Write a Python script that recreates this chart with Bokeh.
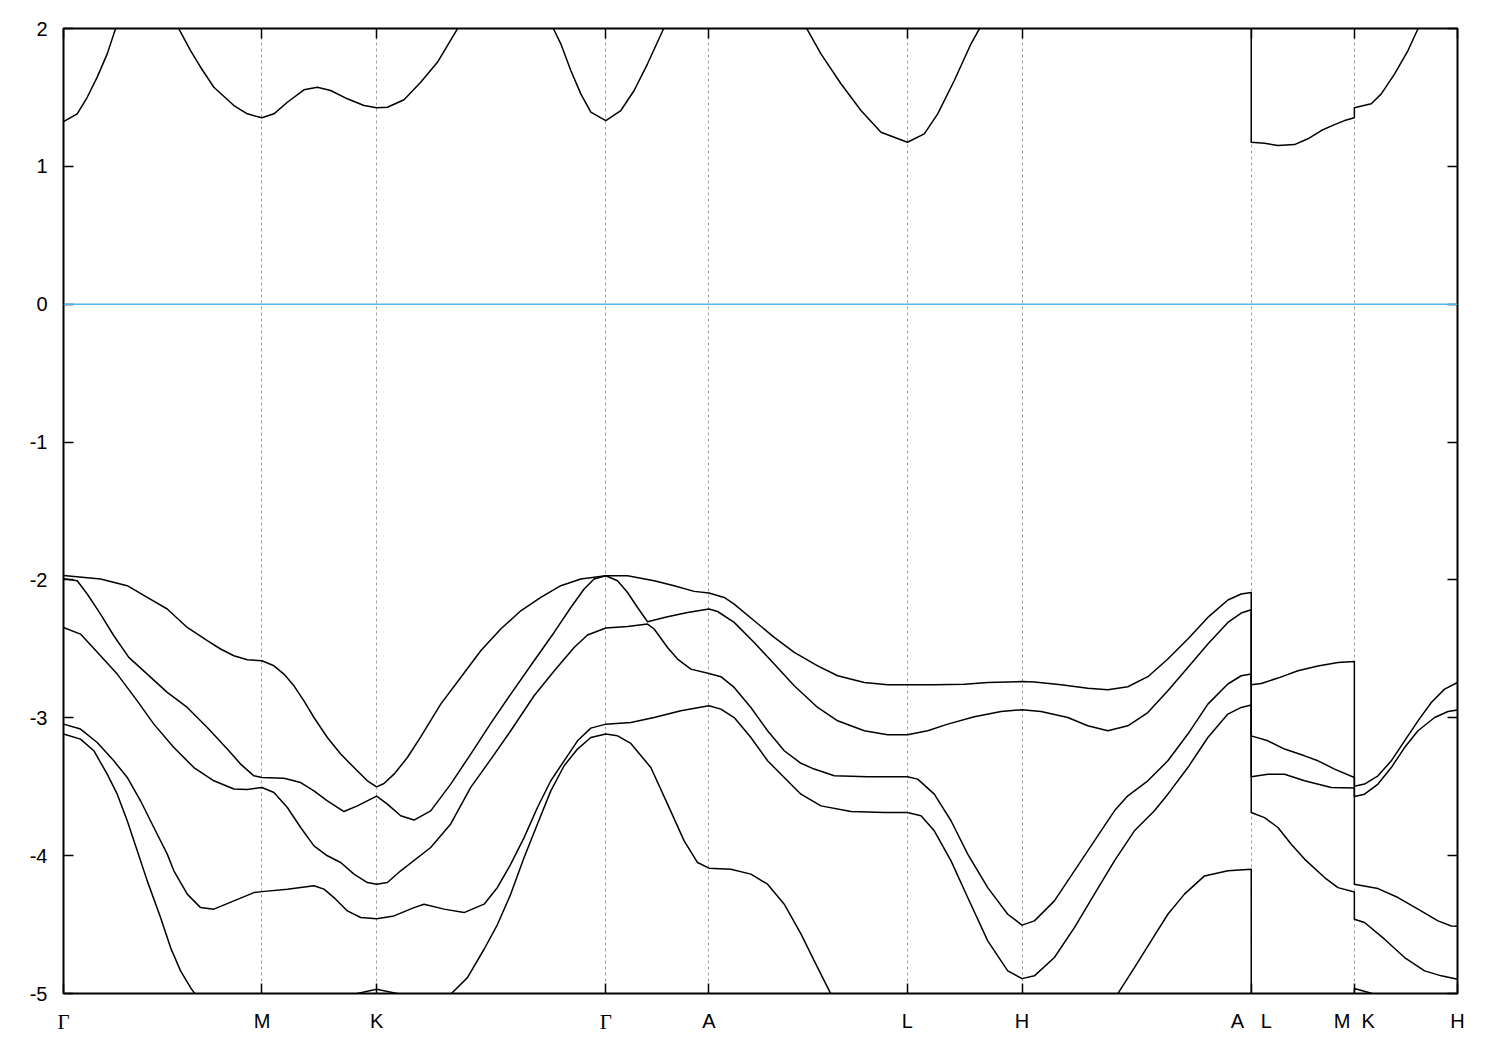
from bokeh.plotting import figure
from bokeh.models import Range1d, FixedTicker, LinearAxis, Span, Label
from bokeh.embed import file_html
from bokeh.resources import INLINE

# high-symmetry points along the path (units of 2*pi/a)
kpath = [0.0, 0.57735, 0.91068, 1.57735, 1.87735, 2.45470, 2.78803, 3.45470, 3.75470, 4.05470]
klabels = ["\u0393", "M", "K", "\u0393", "A", "L", "H",
           "A\u00a0\u00a0\u00a0L", "M\u00a0\u00a0K", "H"]
yticks = [-5, -4, -3, -2, -1, 0, 1, 2]
ylabels = ["-5", "-4", "-3", "-2", "-1", "0", "1", "2"]

# conduction band
c1_k = [0, 0.0399, 0.0690, 0.0981, 0.1272, 0.1513, 0.19, 0.245, 0.30, 0.3356, 0.3696, 0.3987,
        0.4374, 0.4956, 0.5346, 0.57735, 0.6121, 0.6511, 0.6994, 0.7384, 0.7771, 0.8257, 0.8740,
        0.91068, 0.9421, 0.9904, 1.0390, 1.0876, 1.1458, 1.20, 1.285, 1.37, 1.4252, 1.4465, 1.4756,
        1.5047, 1.5338, 1.57735, 1.6211, 1.6598, 1.6988, 1.7454, 1.80, 1.87735, 2.00, 2.10, 2.1624,
        2.2032, 2.2614, 2.3196, 2.3778, 2.45470, 2.5038, 2.5428, 2.5911, 2.6397, 2.6639, 2.72,
        2.78803, 3.10, 3.45470, 3.45470, 3.4934, 3.5324, 3.5807, 3.6197, 3.6584, 3.6971, 3.7262,
        3.75470, 3.75470, 3.8040, 3.8330, 3.8718, 3.9107, 3.9398, 4.00, 4.05470]
c1_e = [1.325, 1.381, 1.501, 1.647, 1.816, 1.998, 2.2, 2.35, 2.2, 1.998, 1.840, 1.719, 1.574,
        1.441, 1.381, 1.352, 1.381, 1.465, 1.555, 1.574, 1.550, 1.490, 1.441, 1.425, 1.429, 1.483,
        1.610, 1.755, 1.998, 2.2, 2.35, 2.2, 1.998, 1.889, 1.695, 1.526, 1.393, 1.332, 1.405, 1.550,
        1.744, 1.998, 2.3, 2.5, 2.45, 2.25, 1.998, 1.816, 1.599, 1.405, 1.247, 1.175, 1.236, 1.381,
        1.623, 1.889, 1.998, 2.4, 2.6, 2.7, 2.6, 1.175, 1.168, 1.151, 1.158, 1.200, 1.260, 1.303,
        1.332, 1.352, 1.425, 1.454, 1.526, 1.671, 1.840, 1.998, 2.4, 2.6]

# valence bands (top to bottom)
v1_k = [0, 0.1077, 0.1854, 0.2436, 0.3018, 0.3600, 0.4182, 0.4569, 0.4956, 0.5346, 0.57735,
        0.6121, 0.6412, 0.6703, 0.6994, 0.7285, 0.7675, 0.8062, 0.8449, 0.8839, 0.91068, 0.9322,
        0.9613, 1.0003, 1.0390, 1.0972, 1.1554, 1.2136, 1.2718, 1.3301, 1.3883, 1.4465, 1.5047,
        1.57735, 1.6406, 1.7180, 1.7762, 1.8344, 1.87735, 1.9218, 1.9508, 2.0090, 2.0673, 2.1255,
        2.1936, 2.2518, 2.3292, 2.3973, 2.45470, 2.5329, 2.6203, 2.6883, 2.78803, 2.8240, 2.9017,
        2.9794, 3.0376, 3.0958, 3.1540, 3.2122, 3.2704, 3.3286, 3.3868, 3.4256, 3.45470, 3.45470,
        3.4838, 3.5324, 3.5906, 3.6488, 3.7070, 3.75470, 3.75470, 3.7843, 3.8234, 3.8621, 3.9008,
        3.9398, 3.9785, 4.0172, 4.05470]
v1_e = [-1.967, -1.993, -2.042, -2.127, -2.211, -2.345, -2.441, -2.501, -2.550, -2.579, -2.586,
        -2.623, -2.683, -2.768, -2.877, -2.998, -3.143, -3.263, -3.361, -3.457, -3.501, -3.477,
        -3.409, -3.288, -3.138, -2.901, -2.708, -2.514, -2.356, -2.224, -2.127, -2.042, -1.993,
        -1.970, -1.970, -2.006, -2.042, -2.083, -2.095, -2.127, -2.175, -2.296, -2.417, -2.526,
        -2.623, -2.695, -2.744, -2.761, -2.761, -2.761, -2.756, -2.744, -2.737, -2.741, -2.761,
        -2.785, -2.797, -2.775, -2.702, -2.574, -2.429, -2.272, -2.146, -2.102, -2.091, -2.761,
        -2.751, -2.712, -2.659, -2.625, -2.599, -2.591, -3.496, -3.481, -3.421, -3.312, -3.167,
        -3.022, -2.889, -2.792, -2.744]

v2_k = [0, 0.0399, 0.0690, 0.1077, 0.1464, 0.1900, 0.2436, 0.3018, 0.3600, 0.4182, 0.4764,
        0.5151, 0.5539, 0.57735, 0.6412, 0.6898, 0.7285, 0.7675, 0.8158, 0.8548, 0.91068, 0.9421,
        0.9808, 1.0195, 1.0681, 1.1263, 1.1845, 1.2427, 1.3009, 1.3688, 1.4270, 1.4756, 1.5143,
        1.5434, 1.57735, 1.6115, 1.6406, 1.6697, 1.6988, 1.7570, 1.8152, 1.87735, 1.9025, 1.9508,
        2.0090, 2.0673, 2.1255, 2.1936, 2.2518, 2.3292, 2.3973, 2.45470, 2.5137, 2.5719, 2.6493,
        2.7271, 2.78803, 2.8435, 2.9212, 2.9794, 3.0376, 3.0958, 3.1540, 3.2122, 3.2704, 3.3286,
        3.3868, 3.4256, 3.45470, 3.45470, 3.5032, 3.5516, 3.6098, 3.6488, 3.6971, 3.75470,
        3.75470, 3.7843, 3.8234, 3.8621, 3.9008, 3.9398, 3.9881, 4.0271, 4.05470]
v2_e = [-1.991, -2.006, -2.102, -2.248, -2.405, -2.562, -2.683, -2.816, -2.925, -3.070, -3.227,
        -3.336, -3.421, -3.433, -3.438, -3.470, -3.530, -3.602, -3.680, -3.639, -3.568, -3.626,
        -3.711, -3.742, -3.675, -3.481, -3.263, -3.040, -2.828, -2.586, -2.381, -2.200, -2.066,
        -1.993, -1.970, -2.006, -2.091, -2.200, -2.303, -2.267, -2.236, -2.211, -2.229, -2.308,
        -2.454, -2.610, -2.768, -2.925, -3.022, -3.094, -3.123, -3.123, -3.094, -3.046, -2.993,
        -2.954, -2.942, -2.954, -2.998, -3.058, -3.094, -3.058, -2.962, -2.804, -2.635, -2.465,
        -2.308, -2.240, -2.216, -3.131, -3.167, -3.227, -3.276, -3.312, -3.372, -3.433, -3.571,
        -3.554, -3.481, -3.361, -3.216, -3.094, -2.998, -2.954, -2.944]

v3_k = [0, 0.0495, 0.1077, 0.1563, 0.2145, 0.2628, 0.3210, 0.3792, 0.4374, 0.4956, 0.5346,
        0.57735, 0.6121, 0.6511, 0.6898, 0.7285, 0.7675, 0.8062, 0.8449, 0.8839, 0.91068, 0.9421,
        0.9808, 1.0681, 1.1263, 1.1845, 1.2427, 1.3009, 1.3688, 1.4270, 1.4852, 1.5242, 1.57735,
        1.6406, 1.6988, 1.7180, 1.7570, 1.7861, 1.8248, 1.87735, 1.9121, 1.9508, 1.9994, 2.0480,
        2.0964, 2.1450, 2.1837, 2.2419, 2.3391, 2.45470, 2.4846, 2.5329, 2.5815, 2.6301, 2.6883,
        2.7465, 2.78803, 2.8240, 2.8822, 2.9404, 2.9986, 3.0568, 3.0958, 3.1540, 3.2122, 3.2704,
        3.3286, 3.3868, 3.4256, 3.45470, 3.45470, 3.5032, 3.5516, 3.6098, 3.6875, 3.75470,
        3.75470, 3.8234, 3.8816, 3.9398, 3.9980, 4.0367, 4.05470]
v3_e = [-2.345, -2.393, -2.550, -2.683, -2.877, -3.046, -3.216, -3.361, -3.457, -3.517, -3.520,
        -3.506, -3.542, -3.651, -3.796, -3.929, -4.001, -4.050, -4.134, -4.195, -4.207, -4.195,
        -4.110, -3.941, -3.770, -3.505, -3.302, -3.094, -2.840, -2.660, -2.490, -2.400, -2.349,
        -2.337, -2.320, -2.356, -2.490, -2.574, -2.647, -2.679, -2.702, -2.780, -2.925, -3.094,
        -3.239, -3.330, -3.372, -3.421, -3.428, -3.428, -3.445, -3.554, -3.747, -3.989, -4.232,
        -4.425, -4.504, -4.473, -4.328, -4.110, -3.893, -3.675, -3.566, -3.457, -3.312, -3.118,
        -2.901, -2.755, -2.695, -2.683, -3.428, -3.409, -3.409, -3.457, -3.506, -3.510, -4.207,
        -4.239, -4.304, -4.388, -4.473, -4.510, -4.512]

v4_k = [0, 0.0495, 0.0981, 0.1464, 0.1854, 0.2241, 0.2628, 0.3018, 0.3210, 0.3600, 0.3987,
        0.4374, 0.4956, 0.5539, 0.57735, 0.6511, 0.7285, 0.7576, 0.7867, 0.8257, 0.8644, 0.91068,
        0.9613, 1.0195, 1.0486, 1.1068, 1.1650, 1.2233, 1.2622, 1.3009, 1.3397, 1.3786, 1.4174,
        1.4561, 1.4951, 1.5338, 1.57735, 1.6502, 1.7180, 1.7957, 1.87735, 1.9121, 1.9508, 1.9994,
        2.0480, 2.0964, 2.1450, 2.2032, 2.2905, 2.3874, 2.45470, 2.4942, 2.5329, 2.5815, 2.6301,
        2.6883, 2.7465, 2.78803, 2.8240, 2.8822, 2.9404, 2.9986, 3.0568, 3.1150, 3.1732, 3.2122,
        3.2704, 3.3286, 3.3868, 3.4256, 3.45470, 3.45470, 3.4934, 3.5324, 3.5711, 3.6098, 3.6680,
        3.7070, 3.75470, 3.75470, 3.7843, 3.8425, 3.9008, 3.9590, 4.0076, 4.05470]
v4_e = [-3.046, -3.082, -3.179, -3.312, -3.433, -3.602, -3.796, -3.989, -4.110, -4.279, -4.377,
        -4.388, -4.328, -4.268, -4.261, -4.243, -4.219, -4.243, -4.304, -4.401, -4.449, -4.457,
        -4.437, -4.377, -4.352, -4.388, -4.413, -4.352, -4.231, -4.062, -3.869, -3.651, -3.457,
        -3.312, -3.167, -3.075, -3.046, -3.034, -2.998, -2.949, -2.913, -2.937, -2.998, -3.143,
        -3.312, -3.433, -3.554, -3.639, -3.680, -3.687, -3.687, -3.711, -3.820, -4.038, -4.304,
        -4.618, -4.836, -4.892, -4.872, -4.739, -4.522, -4.279, -4.038, -3.820, -3.675, -3.554,
        -3.361, -3.143, -2.973, -2.925, -2.908, -3.687, -3.724, -3.796, -3.917, -4.025, -4.159,
        -4.232, -4.263, -4.461, -4.485, -4.606, -4.739, -4.836, -4.872, -4.896]

v5_k = [0, 0.0495, 0.0882, 0.1272, 0.1563, 0.1854, 0.2145, 0.2436, 0.2823, 0.3114, 0.3405,
        0.3696, 0.3987, 0.45, 0.57735, 0.70, 0.80, 0.8449, 0.91068, 0.9808, 1.05, 1.1263, 1.1749,
        1.2233, 1.2622, 1.3009, 1.3397, 1.3786, 1.4174, 1.4561, 1.4951, 1.5338, 1.57735, 1.6115,
        1.6502, 1.7084, 1.7570, 1.8053, 1.8443, 1.87735, 1.9412, 1.9994, 2.0480, 2.0964, 2.1450,
        2.1837, 2.2323, 2.45470, 2.78803, 2.90, 2.97, 3.0667, 3.1150, 3.1636, 3.2122, 3.2605,
        3.3188, 3.3868, 3.45470, 3.45470, 3.75470, 3.75470, 3.8040, 3.90, 4.05470]
v5_e = [-3.118, -3.155, -3.239, -3.409, -3.554, -3.747, -3.965, -4.183, -4.449, -4.667, -4.836,
        -4.957, -5.06, -5.2, -5.3, -5.2, -5.03, -5.005, -4.969, -5.005, -5.04, -5.005, -4.885,
        -4.679, -4.500, -4.279, -4.014, -3.771, -3.530, -3.348, -3.227, -3.143, -3.118, -3.131,
        -3.186, -3.361, -3.626, -3.893, -4.050, -4.091, -4.098, -4.134, -4.207, -4.352, -4.567,
        -4.763, -5.005, -5.7, -5.85, -5.6, -5.35, -5.001, -4.812, -4.618, -4.425, -4.279,
        -4.147, -4.110, -4.098, -5.7, -5.3, -4.964, -4.998, -5.3, -5.85]

bands = [(c1_k, c1_e), (v1_k, v1_e), (v2_k, v2_e), (v3_k, v3_e), (v4_k, v4_e), (v5_k, v5_e)]

FONT = "Liberation Sans"

p = figure(width=1498, height=1043,
           x_range=Range1d(kpath[0], kpath[-1]), y_range=Range1d(-5, 2),
           output_backend="svg", toolbar_location=None,
           min_border_left=63, min_border_right=41, min_border_top=28, min_border_bottom=50)
p.background_fill_color = "white"
p.border_fill_color = "white"
p.outline_line_color = "black"
p.outline_line_width = 2

# bottom x axis
xa = p.xaxis[0]
xa.ticker = FixedTicker(ticks=kpath)
xa.major_label_overrides = {k: ("" if lab == "\u0393" else lab) for k, lab in zip(kpath, klabels)}
# left y axis
ya = p.yaxis[0]
ya.ticker = FixedTicker(ticks=yticks)
ya.major_label_overrides = {t: s for t, s in zip(yticks, ylabels)}

for ax in (xa, ya):
    ax.axis_line_color = None
    ax.major_tick_in = 10
    ax.major_tick_out = 0
    ax.major_tick_line_color = "black"
    ax.major_tick_line_width = 1.5
    ax.minor_tick_line_color = None
    ax.major_label_text_font = FONT
    ax.major_label_text_font_size = "20px"
    ax.major_label_text_color = "black"
    ax.major_label_standoff = 16

# mirror axes (ticks only, no labels drawn)
top = LinearAxis(ticker=FixedTicker(ticks=kpath))
right = LinearAxis(ticker=FixedTicker(ticks=yticks))
for ax in (top, right):
    ax.axis_line_color = None
    ax.major_tick_in = 10
    ax.major_tick_out = 0
    ax.major_tick_line_color = "black"
    ax.major_tick_line_width = 1.5
    ax.minor_tick_line_color = None
    ax.major_label_text_color = None
    ax.major_label_text_font_size = "0px"
    ax.major_label_standoff = 0
p.add_layout(top, "above")
p.add_layout(right, "right")

# grid: dashed verticals at high-symmetry points
p.xgrid.ticker = FixedTicker(ticks=kpath)
p.xgrid.grid_line_color = "#a0a0a0"
p.xgrid.grid_line_dash = "3 3"
p.xgrid.grid_line_width = 1
p.ygrid.visible = False

# Fermi level
p.add_layout(Span(location=0, dimension="width", line_color="#56b4e9", line_width=1.5))

for k, e in bands:
    p.line(k, e, line_color="black", line_width=1.5, line_join="round")

# Gamma labels in a serif face (placed in a side panel so they are not clipped to the frame)
for k, lab in zip(kpath, klabels):
    if lab == "\u0393":
        p.add_layout(Label(x=k, y=-5, x_units="data", y_units="data", y_offset=-16,
                           text=lab, text_font="Liberation Serif", text_font_size="21px",
                           text_align="center", text_baseline="top", text_color="black"),
                     "right")

open("out.html", "w").write(file_html(p, INLINE))
